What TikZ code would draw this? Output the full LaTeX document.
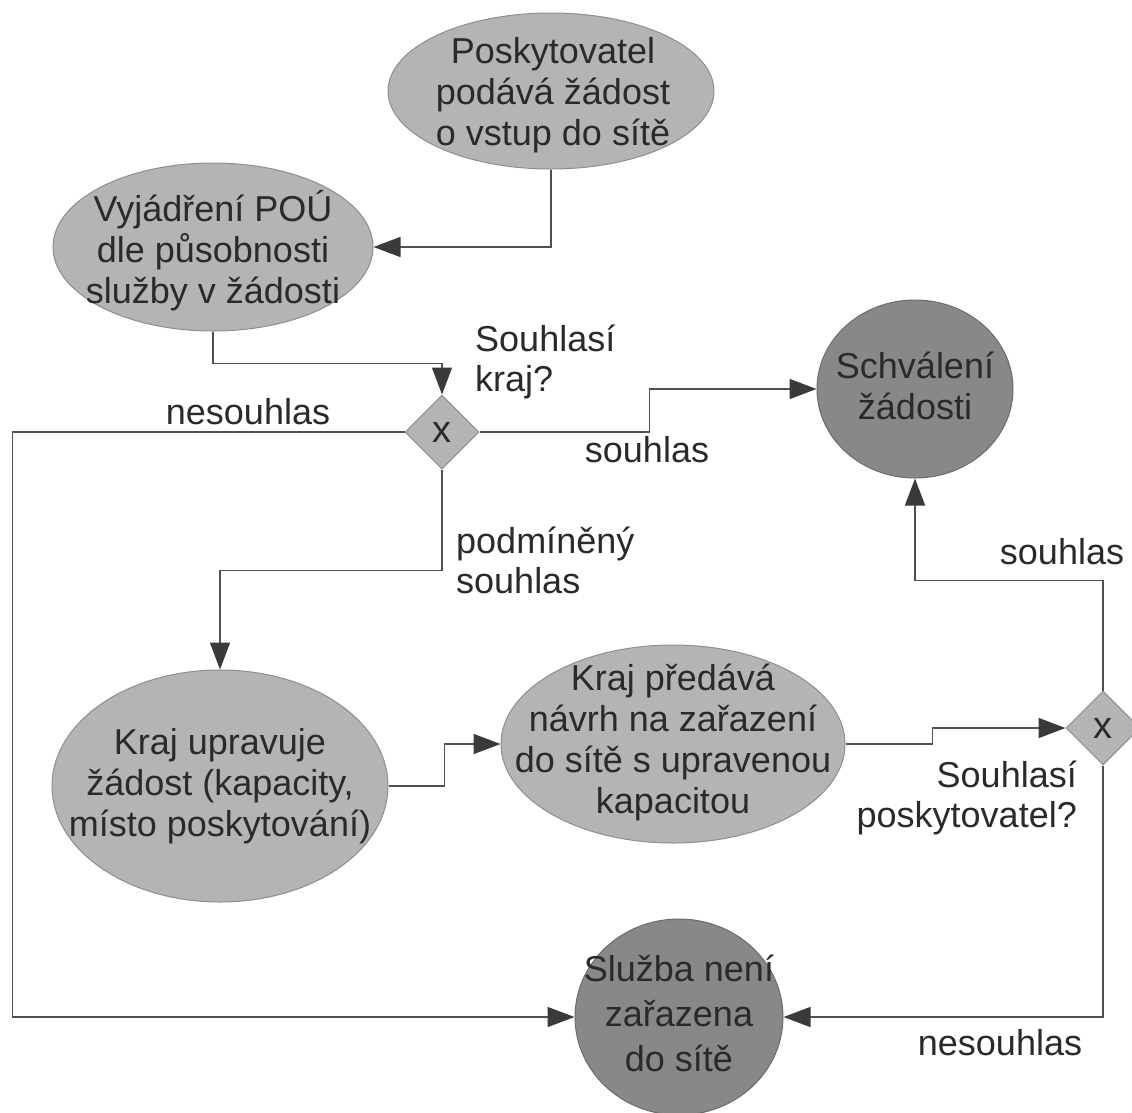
\documentclass[tikz,border=0pt]{standalone}
\usepackage{fontspec}
\setmainfont{Liberation Sans}
\usetikzlibrary{shapes.geometric,arrows.meta}
\definecolor{procfill}{HTML}{B4B4B4}
\definecolor{procdraw}{HTML}{8E8E8E}
\definecolor{endfill}{HTML}{888888}
\definecolor{enddraw}{HTML}{6C6C6C}
\definecolor{linecol}{HTML}{505050}
\definecolor{tipcol}{HTML}{3A3A3A}
\definecolor{txtcol}{HTML}{2A2A2A}
\begin{document}
\begin{tikzpicture}[x=1pt,y=-1pt,
  proc/.style={ellipse,fill=procfill,draw=procdraw,line width=1pt,inner sep=0pt},
  endst/.style={ellipse,fill=endfill,draw=enddraw,line width=1pt,inner sep=0pt},
  gate/.style={diamond,aspect=1,fill=procfill,draw=procdraw,line width=1pt,inner sep=0pt,minimum width=74pt,minimum height=74pt,text=txtcol,font=\fontsize{38}{40}\selectfont},
  txt/.style={align=center,text=txtcol,font=\fontsize{36}{41}\selectfont,inner sep=0pt},
  lbl/.style={text=txtcol,font=\fontsize{36}{40}\selectfont,inner sep=0pt},
  conn/.style={draw=linecol,line width=1.5pt,-{Triangle[length=27pt,width=20pt,color=tipcol]}}]
\useasboundingbox (0,0) rectangle (1132,1112);
% shapes
\node[proc,minimum width=326pt,minimum height=156pt] (e1) at (551,91) {};
\node[txt] (e1t) at (553,95) {Poskytovatel\\podává žádost\\o vstup do sítě};
\node[proc,minimum width=320pt,minimum height=168pt] (e2) at (213,247) {};
\node[txt] (e2t) at (213,251) {Vyjádření POÚ\\dle působnosti\\služby v žádosti};
\node[gate] (d1) at (442,432) {x};
\node[endst,minimum width=196pt,minimum height=178pt] (c1) at (915,389) {};
\node[txt] (c1t) at (915,386) {Schválení\\žádosti};
\node[proc,minimum width=336pt,minimum height=232pt] (e3) at (220,786) {};
\node[txt] (e3t) at (220,786) {Kraj upravuje\\žádost (kapacity,\\místo poskytování)};
\node[proc,minimum width=344pt,minimum height=198pt] (e4) at (673,744) {};
\node[txt] (e4t) at (673,742) {Kraj předává\\návrh na zařazení\\do sítě s upravenou\\kapacitou};
\node[gate] (d2) at (1103,728) {x};
\node[endst,minimum width=208pt,minimum height=196pt] (c2) at (679,1017) {};
\node[txt,font=\fontsize{36}{45}\selectfont] (c2t) at (679,1013) {Služba není\\zařazena\\do sítě};
% connectors
\draw[conn] (e1.south) |- (e2.east);
\draw[conn] (e2.south) -- ++(0,32) -| (d1.north);
\draw[conn] (d1.east) -- ++(170,0) |- (c1.west);
\draw[conn] (d1.west) -- ++(-392,0) |- (c2.west);
\draw[conn] (d1.south) -- ++(0,101) -| (e3.north);
\draw[conn] (e3.east) -- ++(56,0) |- (e4.west);
\draw[conn] (e4.east) -- ++(87,0) |- (d2.west);
\draw[conn] (d2.north) -- ++(0,-110) -| (c1.south);
\draw[conn] (d2.south) |- (c2.east);
% labels
\node[lbl,align=left,anchor=west] (l1) at (475,362) {Souhlasí\\kraj?};
\node[lbl] (l2) at (248,412) {nesouhlas};
\node[lbl] (l3) at (647,450) {souhlas};
\node[lbl,align=left,anchor=west] (l4) at (456,560) {podmíněný\\souhlas};
\node[lbl] (l5) at (1062,552) {souhlas};
\node[lbl,align=right,anchor=east] (l6) at (1077,798) {Souhlasí\\poskytovatel?};
\node[lbl] (l7) at (1000,1043) {nesouhlas};
\end{tikzpicture}
\end{document}
